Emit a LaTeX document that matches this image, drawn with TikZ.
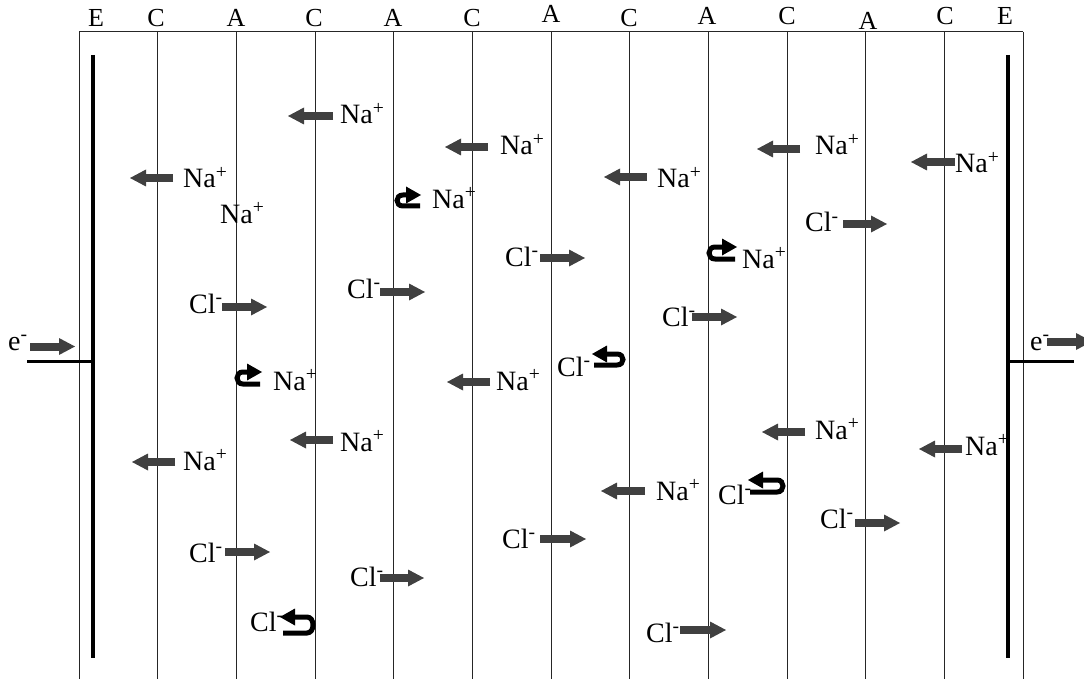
\documentclass[tikz,border=0pt]{standalone}
\usepackage{fontspec}
\setmainfont{Liberation Serif}
\usetikzlibrary{arrows.meta}
\definecolor{arrgray}{HTML}{404040}
\tikzset{
  ion/.style={anchor=base west, inner sep=0pt, font=\fontsize{28}{32}\selectfont},
  lab/.style={anchor=base, inner sep=0pt, font=\fontsize{26}{30}\selectfont},
  flow/.style={draw=arrgray, line width=8pt, -{Triangle[length=16pt,width=17pt,line width=0pt]}},
  uturn/.style={draw=black, line width=5pt, -{Triangle[length=15pt,width=17pt,line width=0pt]}},
  membrane/.style={draw=black!85, line width=1pt},
  electrode/.style={draw=black, line width=3.8pt},
}
\newcommand{\Na}{Na\textsuperscript{+}}
\newcommand{\Cl}{Cl\textsuperscript{-}}
\begin{document}
\begin{tikzpicture}[x=1pt,y=-1pt]
\useasboundingbox (0,0) rectangle (1084,679);
\clip (0,0) rectangle (1084,679);
% membranes
\draw[membrane] (79,32) -- (1023,32);
\foreach \i in {0,...,12}{
  \draw[membrane] ({79+78.667*\i},32) -- ({79+78.667*\i},681);
}
% top labels
\node[lab] (l0) at (96,27) {E};
\node[lab] (l1) at (156,27) {C};
\node[lab] (l2) at (236,27) {A};
\node[lab] (l3) at (314,27) {C};
\node[lab] (l4) at (393,27) {A};
\node[lab] (l5) at (472,27) {C};
\node[lab] (l6) at (551,23) {A};
\node[lab] (l7) at (629,27) {C};
\node[lab] (l8) at (707,25) {A};
\node[lab] (l9) at (787,25) {C};
\node[lab] (l10) at (868,30) {A};
\node[lab] (l11) at (945,25) {C};
\node[lab] (l12) at (1005,25) {E};
% electrodes
\draw[electrode] (93,55) -- (93,658);
\draw[electrode] (1008,55) -- (1008,658);
\draw[electrode] (27,361.5) -- (93,361.5);
\draw[electrode] (1008,361.5) -- (1074,361.5);
% electrons
\node[ion] (e1) at (8,350) {e\textsuperscript{-}};
\draw[flow] (30,346.5) -- (75,346.5);
\node[ion] (e2) at (1030,350) {e\textsuperscript{-}};
\draw[flow] (1047,341.5) -- (1092,341.5);
% Na+ moving left
\draw[flow] (333,116) -- (288,116);  \node[ion] (n1) at (340,124) {\Na};
\draw[flow] (488,147) -- (445,147);  \node[ion] (n2) at (500,155) {\Na};
\draw[flow] (800,149) -- (757,149);  \node[ion] (n3) at (815,155) {\Na};
\draw[flow] (955,162) -- (911,162);  \node[ion] (n4) at (955,173) {\Na};
\draw[flow] (173,178) -- (130,178);  \node[ion] (n5) at (183,188) {\Na};
\draw[flow] (647,177) -- (604,177);  \node[ion] (n6) at (657,188) {\Na};
\node[ion] (n7) at (220,223) {\Na};
\draw[flow] (490,382) -- (447,382);  \node[ion] (n8) at (496,390) {\Na};
\draw[flow] (333,440) -- (290,440);  \node[ion] (n9) at (340,451) {\Na};
\draw[flow] (805,432) -- (762,432);  \node[ion] (n10) at (815,439) {\Na};
\draw[flow] (962,449) -- (919,449);  \node[ion] (n11) at (965,455) {\Na};
\draw[flow] (175,462) -- (132,462);  \node[ion] (n12) at (183,470) {\Na};
\draw[flow] (645,491) -- (601,491);  \node[ion] (n13) at (656,500) {\Na};
% Na+ turning back
\draw[uturn] (420,206) -- (403,206) .. controls (395,206) and (395,195) .. (403,195) -- (421,195);
\node[ion] (n14) at (432,208) {\Na};
\draw[uturn] (260,384) -- (243,384) .. controls (235,384) and (235,372) .. (243,372) -- (262,372);
\node[ion] (n15) at (273,390) {\Na};
\draw[uturn] (735,259) -- (715,259) .. controls (707,259) and (707,247) .. (715,247) -- (737,247);
\node[ion] (n16) at (742,268) {\Na};
% Cl- moving right
\node[ion] (c1) at (805,232) {\Cl};  \draw[flow] (843,224) -- (887,224);
\node[ion] (c2) at (505,266) {\Cl};  \draw[flow] (540,258) -- (585,258);
\node[ion] (c3) at (347,298) {\Cl};  \draw[flow] (380,292) -- (425,292);
\node[ion] (c4) at (189,313) {\Cl};  \draw[flow] (222,307) -- (267,307);
\node[ion] (c5) at (662,326) {\Cl};  \draw[flow] (692,317) -- (737,317);
\node[ion] (c6) at (820,528) {\Cl};  \draw[flow] (855,523) -- (900,523);
\node[ion] (c7) at (502,548) {\Cl};  \draw[flow] (540,539) -- (586,539);
\node[ion] (c8) at (189,562) {\Cl};  \draw[flow] (225,552) -- (270,552);
\node[ion] (c9) at (350,586) {\Cl};  \draw[flow] (380,578) -- (424,578);
\node[ion] (c10) at (646,642) {\Cl}; \draw[flow] (680,630) -- (726,630);
% Cl- turning back
\node[ion] (c11) at (557,376) {\Cl};
\draw[uturn] (594,365) -- (617,365) .. controls (625,365) and (625,354) .. (617,354) -- (592,354);
\node[ion] (c12) at (718,504) {\Cl};
\draw[uturn] (750,492) -- (777,492) .. controls (785,492) and (785,480) .. (777,480) -- (748,480);
\node[ion] (c13) at (250,631) {\Cl};
\draw[uturn] (283,633) -- (307,633) .. controls (315,633) and (315,617) .. (307,617) -- (280,617);
\end{tikzpicture}
\end{document}
